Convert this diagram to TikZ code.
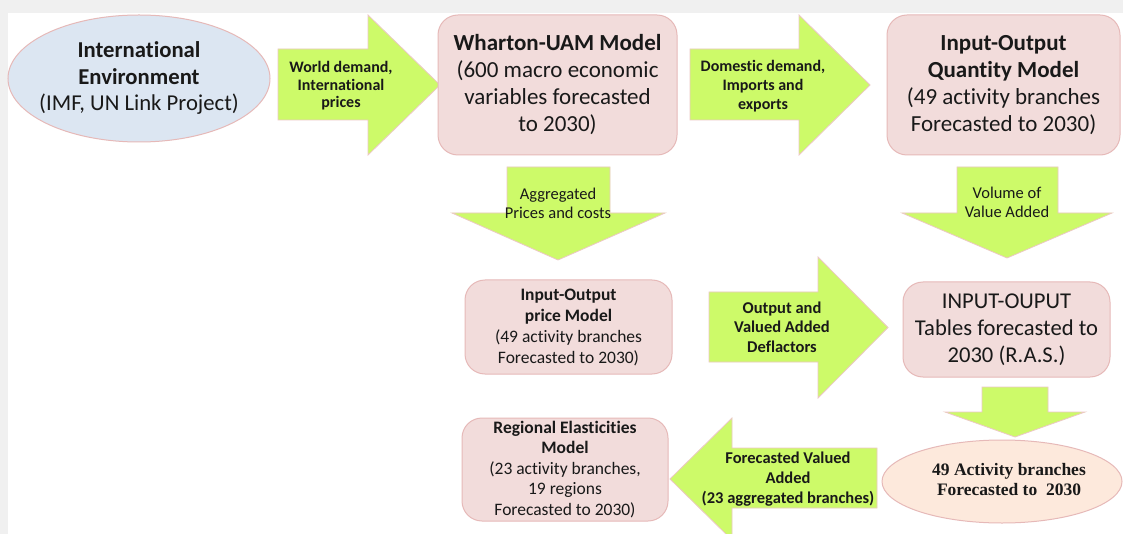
\documentclass[tikz,border=0pt]{standalone}
\usepackage{fontspec}
\setmainfont{Carlito}[Ligatures=NoCommon]
\newfontfamily\serifb{Liberation Serif}
\definecolor{bgray}{RGB}{240,240,240}
\definecolor{boxfill}{RGB}{242,220,219}
\definecolor{boxline}{RGB}{230,185,184}
\definecolor{arrowfill}{RGB}{205,250,105}
\definecolor{arrowline}{RGB}{236,200,196}
\definecolor{bluefill}{RGB}{220,230,242}
\definecolor{peachfill}{RGB}{253,233,220}
\definecolor{txt}{RGB}{25,25,25}
\tikzset{
  blockarrow/.style={fill=arrowfill, draw=arrowline, line width=0.8pt, line join=miter},
  modelbox/.style={fill=boxfill, draw=boxline, line width=1pt, rounded corners=20pt},
  lbl/.style={align=center, text=txt, inner sep=0pt},
}
\begin{document}
\begin{tikzpicture}[x=1pt,y=-1pt]
\useasboundingbox (0,0) rectangle (1123,534);
\clip (0,0) rectangle (1123,534);
\fill[bgray] (0,0) rectangle (1123,534);
\fill[white] (8,13) rectangle (1123,534);

% ---- International Environment ellipse
\draw[fill=bluefill, draw=boxline, line width=1pt] (139,78.5) ellipse [x radius=131, y radius=63.5];
\node[lbl, font=\fontsize{22.7}{26.5}\selectfont] (intl) at (139,78) {\textbf{International}\\\textbf{Environment}\\(IMF, UN Link Project)};

% ---- Arrow 1
\draw[blockarrow] (278,49) -- (368,49) -- (368,15) -- (440,85) -- (368,155) -- (368,120) -- (278,120) -- cycle;
\node[lbl, font=\fontsize{16}{17.5}\selectfont\bfseries] (a1) at (341,86) {World demand,\\International\\prices};

% ---- Wharton box
\draw[modelbox] (438,15) rectangle (677,155);
\node[lbl, font=\fontsize{23}{27}\selectfont] (wharton) at (557.5,85) {\textbf{Wharton-UAM Model}\\(600 macro economic\\variables forecasted\\to 2030)};

% ---- Arrow 2
\draw[blockarrow] (690,49) -- (799,49) -- (799,15) -- (870,85) -- (799,155) -- (799,120) -- (690,120) -- cycle;
\node[lbl, font=\fontsize{16}{19}\selectfont\bfseries] (a2) at (763,86) {Domestic demand,\\Imports and\\exports};

% ---- IO Quantity box
\draw[modelbox] (887,15) rectangle (1120,155);
\node[lbl, font=\fontsize{23}{27}\selectfont] (ioq) at (1003.5,85) {\textbf{Input-Output}\\\textbf{Quantity Model}\\(49 activity branches\\Forecasted to 2030)};

% ---- Aggregated down arrow
\draw[blockarrow] (507,167) -- (610,167) -- (610,213) -- (665,213) -- (558,260) -- (452,213) -- (507,213) -- cycle;
\node[lbl, font=\fontsize{16.5}{19}\selectfont] (agg) at (558,203) {Aggregated\\Prices and costs};

% ---- Volume down arrow
\draw[blockarrow] (957,167) -- (1058,167) -- (1058,213) -- (1112,213) -- (1007,258) -- (902,213) -- (957,213) -- cycle;
\node[lbl, font=\fontsize{16.5}{19}\selectfont] (vol) at (1007,202) {Volume of\\Value Added};

% ---- IO price box
\draw[modelbox] (465,280) rectangle (672,374);
\node[lbl, font=\fontsize{17.5}{21}\selectfont] (iop) at (568.5,327) {\textbf{Input-Output}\\\textbf{price Model}\\(49 activity branches\\Forecasted to 2030)};

% ---- Arrow 3
\draw[blockarrow] (709,292) -- (818,292) -- (818,257) -- (888,327.5) -- (818,398) -- (818,362) -- (709,362) -- cycle;
\node[lbl, font=\fontsize{16.5}{19.5}\selectfont\bfseries] (a3) at (782,327) {Output and\\Valued Added\\Deflactors};

% ---- INPUT-OUPUT box
\draw[modelbox] (903,282) rectangle (1110,377);
\node[lbl, font=\fontsize{22.6}{27}\selectfont] (iot) at (1006.5,329.5) {INPUT-OUPUT\\Tables forecasted to\\2030 (R.A.S.)};

% ---- small down arrow
\draw[blockarrow] (982,387) -- (1048,387) -- (1048,412) -- (1085,412) -- (1015,437) -- (945,412) -- (982,412) -- cycle;

% ---- 49 activity ellipse
\draw[fill=peachfill, draw=boxline, line width=1pt] (1002,481.5) ellipse [x radius=120, y radius=41.5];
\node[lbl, font=\fontsize{17.5}{20}\selectfont\serifb\bfseries] (act) at (1009,480) {49 Activity branches\\Forecasted to\ \ 2030};

% ---- Regional box
\draw[modelbox] (462,418) rectangle (668,521);
\node[lbl, font=\fontsize{17.5}{20.5}\selectfont] (reg) at (565,469.5) {\textbf{Regional Elasticities}\\\textbf{Model}\\(23 activity branches,\\19 regions\\Forecasted to 2030)};

% ---- Left arrow
\draw[blockarrow] (877,448) -- (732,448) -- (732,418) -- (670,479) -- (732,540) -- (732,508) -- (877,508) -- cycle;
\node[lbl, font=\fontsize{16.5}{20}\selectfont\bfseries] (a4) at (788,479) {Forecasted Valued\\Added\\(23 aggregated branches)};
\end{tikzpicture}
\end{document}
